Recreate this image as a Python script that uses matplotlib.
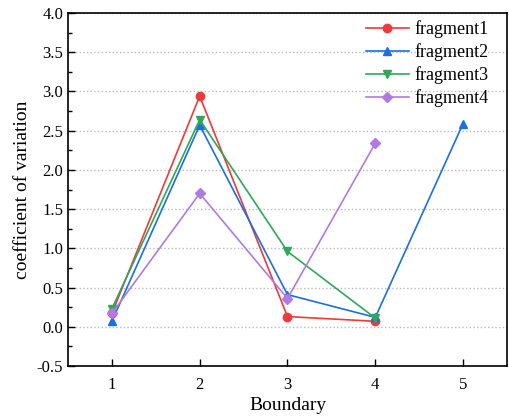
import matplotlib
matplotlib.use("Agg")
import matplotlib.pyplot as plt
from matplotlib.ticker import MultipleLocator

plt.rcParams['font.family'] = ['Liberation Serif', 'DejaVu Serif']

boundary = [1, 2, 3, 4, 5]
fragment1 = [0.17, 2.94, 0.13, 0.07]
fragment2 = [0.07, 2.57, 0.41, 0.12, 2.59]
fragment3 = [0.23, 2.64, 0.96, 0.11]
fragment4 = [0.17, 1.70, 0.36, 2.34]

series = [
    ("fragment1", fragment1, "#ee3a3a", "o"),
    ("fragment2", fragment2, "#1a6fe3", "^"),
    ("fragment3", fragment3, "#2ea85a", "v"),
    ("fragment4", fragment4, "#b27ae0", "D"),
]

fig = plt.figure(figsize=(5.1, 4.17), dpi=100)
ax = fig.add_axes([68/510, 1-366/417, (507-68)/510, (366-13)/417])

for name, vals, col, mk in series:
    ms = 6 if mk != "D" else 5
    ax.plot(boundary[:len(vals)], vals, color=col, marker=mk, markersize=ms,
            linewidth=1.2, label=name)

ax.set_xlim(0.5, 5.5)
ax.set_ylim(-0.5, 4.0)
ax.set_xticks(boundary)
ax.yaxis.set_major_locator(MultipleLocator(0.5))
ax.yaxis.set_minor_locator(MultipleLocator(0.25))
ax.yaxis.set_major_formatter(matplotlib.ticker.FormatStrFormatter('%.1f'))
ax.tick_params(axis='both', which='both', direction='in', labelsize=12, top=False, right=False)
ax.tick_params(axis='both', which='major', length=5, width=1)
ax.tick_params(axis='x', which='major', pad=8)
ax.tick_params(axis='y', which='minor', length=3, width=1)
ax.tick_params(axis='x', which='minor', bottom=False)
ax.grid(axis='y', which='major', linestyle=':', color='#bbbbbb', linewidth=1)
for s in ax.spines.values():
    s.set_linewidth(1.2)
ax.set_xlabel("Boundary", fontsize=14, labelpad=3)
ax.set_ylabel("coefficient of variation", fontsize=14)
ax.legend(loc='upper right', frameon=False, fontsize=13, handlelength=2.4,
          handletextpad=0.3, labelspacing=0.28, borderaxespad=0.0,
          bbox_to_anchor=(0.975, 1.0))

fig.savefig("out.png", dpi=100)
